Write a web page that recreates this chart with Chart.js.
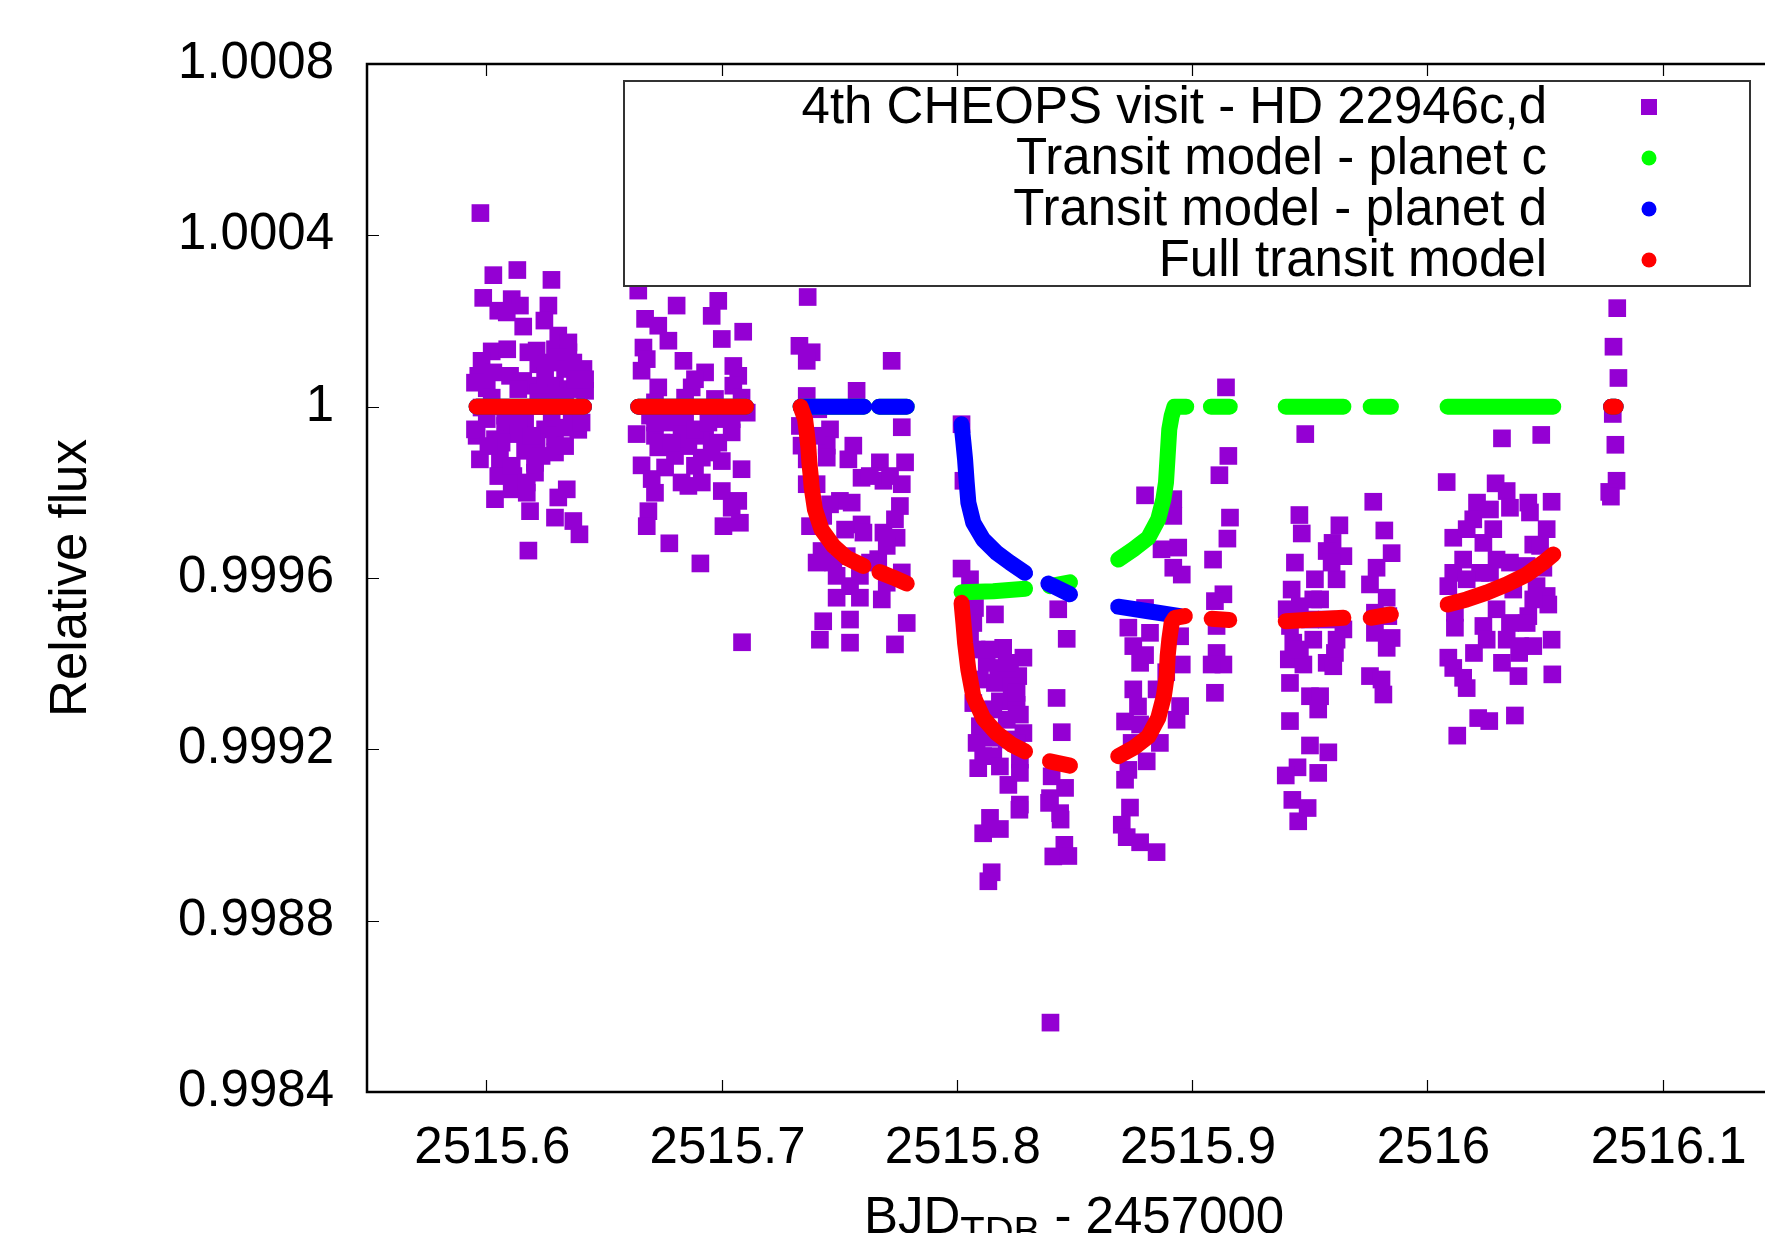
<!DOCTYPE html>
<html>
<head>
<meta charset="utf-8">
<script src="https://cdn.jsdelivr.net/npm/chart.js@4.4.1/dist/chart.umd.min.js"></script>
<style>
  html, body { margin: 0; padding: 0; background: #fff; overflow: hidden; }
</style>
</head>
<body>
<canvas id="chart" width="1765" height="1233"></canvas>
<script>
// axis ticks
const xTicks = [2515.6, 2515.7, 2515.8, 2515.9, 2516.0, 2516.1];
const yTicks = [0.9984, 0.9988, 0.9992, 0.9996, 1.0, 1.0004, 1.0008];

const seriesLabels = [
  "4th CHEOPS visit - HD 22946c,d",
  "Transit model - planet c",
  "Transit model - planet d",
  "Full transit model"
];

// CHEOPS photometry, one array per orbit chunk: [BJD - 2457000, relative flux]
const orbitA = [
  [2515.5975, 1.000452], [2515.6030, 1.000307], [2515.6132, 1.000319], [2515.6277, 1.000296],
  [2515.5987, 1.000254], [2515.6108, 1.000251], [2515.6143, 1.000236], [2515.6264, 1.000236],
  [2515.6051, 1.000224], [2515.6087, 1.000220], [2515.6157, 1.000187], [2515.6247, 1.000201],
  [2515.6306, 1.000166], [2515.6349, 1.000150], [2515.6023, 1.000129], [2515.6089, 1.000134],
  [2515.6214, 1.000131], [2515.6292, 1.000134], [2515.6349, 1.000127], [2515.5980, 1.000107],
  [2515.6221, 1.000099], [2515.6306, 1.000115], [2515.6413, 1.000088], [2515.6335, 1.000088],
  [2515.5966, 1.000072], [2515.6101, 1.000072], [2515.6157, 1.000060], [2515.6207, 1.000049],
  [2515.6292, 1.000049], [2515.6391, 1.000049], [2515.6002, 1.000043], [2515.6136, 1.000041],
  [2515.6349, 1.000041], [2515.6221, 1.000033], [2515.6023, 1.000021], [2515.6292, 1.000025],
  [2515.6420, 1.000037], [2515.5980, 0.999998], [2515.6150, 0.999994], [2515.6335, 1.000002],
  [2515.6235, 1.000010], [2515.6002, 0.999971], [2515.6165, 0.999963], [2515.6278, 0.999971],
  [2515.6363, 0.999971], [2515.6080, 0.999955], [2515.6250, 0.999947], [2515.6391, 0.999946],
  [2515.5959, 0.999932], [2515.6037, 0.999924], [2515.6136, 0.999936], [2515.6214, 0.999916],
  [2515.6292, 0.999932], [2515.6065, 0.999916], [2515.6165, 0.999897], [2515.6292, 0.999893],
  [2515.5973, 0.999877], [2515.6058, 0.999877], [2515.6207, 0.999869], [2515.6235, 0.999885],
  [2515.6051, 0.999838], [2515.6207, 0.999846], [2515.6115, 0.999838], [2515.6108, 0.999807],
  [2515.6172, 0.999799], [2515.6037, 0.999784], [2515.6342, 0.999807], [2515.6306, 0.999788],
  [2515.6186, 0.999756], [2515.6292, 0.999741], [2515.6370, 0.999733], [2515.6396, 0.999702],
  [2515.6179, 0.999664], [2515.5952, 1.000056], [2515.6030, 1.000080], [2515.6370, 1.000103],
  [2515.6264, 1.000103], [2515.6179, 1.000127], [2515.6420, 1.000064], [2515.6250, 1.000072],
  [2515.6377, 1.000064], [2515.5952, 0.999947], [2515.6009, 0.999908], [2515.6193, 0.999932],
  [2515.6335, 0.999951], [2515.6405, 0.999963], [2515.6136, 0.999971], [2515.6080, 0.999979],
  [2515.6335, 0.999908], [2515.6108, 0.999862], [2515.6172, 0.999823]
];

const orbitB = [
  [2515.6646, 1.000271], [2515.6809, 1.000236], [2515.6986, 1.000247], [2515.6958, 1.000212],
  [2515.6675, 1.000205], [2515.6731, 1.000189], [2515.6774, 1.000154], [2515.7092, 1.000175],
  [2515.7001, 1.000158], [2515.6668, 1.000138], [2515.6838, 1.000107], [2515.6682, 1.000111],
  [2515.6660, 1.000084], [2515.7050, 1.000095], [2515.6930, 1.000080], [2515.6887, 1.000064],
  [2515.7071, 1.000072], [2515.6731, 1.000045], [2515.6873, 1.000045], [2515.7050, 1.000049],
  [2515.7085, 1.000021], [2515.6972, 1.000018], [2515.6717, 1.000010], [2515.6845, 1.000021],
  [2515.6696, 0.999979], [2515.6774, 0.999963], [2515.6845, 0.999963], [2515.7001, 0.999971],
  [2515.7107, 0.999986], [2515.6639, 0.999936], [2515.6717, 0.999932], [2515.6830, 0.999936],
  [2515.6930, 0.999932], [2515.7043, 0.999940], [2515.6731, 0.999905], [2515.6859, 0.999908],
  [2515.6986, 0.999916], [2515.6802, 0.999885], [2515.6916, 0.999881], [2515.7001, 0.999873],
  [2515.6660, 0.999863], [2515.6760, 0.999858], [2515.7085, 0.999854], [2515.6887, 0.999862],
  [2515.6703, 0.999831], [2515.6830, 0.999823], [2515.6916, 0.999823], [2515.7001, 0.999803],
  [2515.6717, 0.999799], [2515.6859, 0.999815], [2515.7071, 0.999780], [2515.7043, 0.999764],
  [2515.6689, 0.999756], [2515.6682, 0.999721], [2515.7008, 0.999721], [2515.7078, 0.999729],
  [2515.6778, 0.999681], [2515.6910, 0.999634], [2515.7087, 0.999450], [2515.6745, 0.999916],
  [2515.6788, 0.999916], [2515.6887, 0.999947], [2515.6958, 0.999893], [2515.6717, 0.999963],
  [2515.7043, 0.999971], [2515.6944, 0.999963]
];

const orbitC = [
  [2515.7366, 1.000256], [2515.7331, 1.000142], [2515.7383, 1.000127], [2515.7362, 1.000107],
  [2515.7723, 1.000107], [2515.7574, 1.000037], [2515.7362, 1.000025], [2515.7411, 0.999994],
  [2515.7333, 0.999955], [2515.7461, 0.999947], [2515.7766, 0.999952], [2515.7340, 0.999909],
  [2515.7447, 0.999909], [2515.7560, 0.999909], [2515.7362, 0.999877], [2515.7447, 0.999881],
  [2515.7539, 0.999877], [2515.7673, 0.999870], [2515.7780, 0.999870], [2515.7595, 0.999834],
  [2515.7688, 0.999827], [2515.7766, 0.999819], [2515.7362, 0.999819], [2515.7404, 0.999819],
  [2515.7503, 0.999780], [2515.7553, 0.999776], [2515.7461, 0.999772], [2515.7758, 0.999768],
  [2515.7376, 0.999721], [2515.7595, 0.999725], [2515.7737, 0.999737], [2515.7432, 0.999745],
  [2515.7525, 0.999713], [2515.7603, 0.999706], [2515.7688, 0.999706], [2515.7744, 0.999694],
  [2515.7702, 0.999675], [2515.7425, 0.999663], [2515.7404, 0.999636], [2515.7475, 0.999636],
  [2515.7666, 0.999644], [2515.7489, 0.999605], [2515.7588, 0.999605], [2515.7766, 0.999613],
  [2515.7546, 0.999581], [2515.7702, 0.999589], [2515.7489, 0.999554], [2515.7588, 0.999554],
  [2515.7681, 0.999550], [2515.7432, 0.999499], [2515.7546, 0.999503], [2515.7787, 0.999495],
  [2515.7418, 0.999456], [2515.7546, 0.999449], [2515.7737, 0.999445], [2515.7404, 0.999932],
  [2515.7630, 0.999838], [2515.7716, 0.999838], [2515.7532, 0.999651], [2515.7631, 0.999636]
];

const orbitD = [
  [2515.8020, 0.999959], [2515.8028, 0.999827], [2515.8020, 0.999622], [2515.8056, 0.999597],
  [2515.8077, 0.999530], [2515.8162, 0.999515], [2515.8070, 0.999495], [2515.8056, 0.999456],
  [2515.8197, 0.999437], [2515.8084, 0.999433], [2515.8283, 0.999414], [2515.8127, 0.999402],
  [2515.8176, 0.999390], [2515.8226, 0.999386], [2515.8261, 0.999371], [2515.8098, 0.999363],
  [2515.8162, 0.999355], [2515.8233, 0.999347], [2515.8070, 0.999308], [2515.8183, 0.999312],
  [2515.8254, 0.999304], [2515.8112, 0.999293], [2515.8268, 0.999281], [2515.8212, 0.999269],
  [2515.8098, 0.999254], [2515.8283, 0.999238], [2515.8148, 0.999227], [2515.8084, 0.999215],
  [2515.8254, 0.999215], [2515.8155, 0.999184], [2515.8268, 0.999176], [2515.8091, 0.999156],
  [2515.8268, 0.999145], [2515.8219, 0.999117], [2515.8268, 0.999071], [2515.8266, 0.999059],
  [2515.8141, 0.999040], [2515.8112, 0.999004], [2515.8183, 0.999014], [2515.8148, 0.998913],
  [2515.8134, 0.998892], [2515.8212, 0.999402], [2515.8141, 0.999433], [2515.8254, 0.999332],
  [2515.8155, 0.999293], [2515.8212, 0.999223], [2515.8112, 0.999184], [2515.8183, 0.999160],
  [2515.8431, 0.999527], [2515.8467, 0.999458], [2515.8424, 0.999320], [2515.8446, 0.999240],
  [2515.8403, 0.999137], [2515.8460, 0.999110], [2515.8396, 0.999086], [2515.8392, 0.999075],
  [2515.8439, 0.999051], [2515.8441, 0.999036], [2515.8457, 0.998977], [2515.8410, 0.998950],
  [2515.8474, 0.998951], [2515.8398, 0.998562]
];

const orbitE = [
  [2515.8800, 0.999793], [2515.8920, 0.999784], [2515.8920, 0.999745], [2515.8870, 0.999667],
  [2515.8941, 0.999671], [2515.8920, 0.999624], [2515.8956, 0.999608], [2515.8800, 0.999530],
  [2515.8729, 0.999484], [2515.8821, 0.999472], [2515.8750, 0.999441], [2515.8949, 0.999464],
  [2515.8779, 0.999402], [2515.8956, 0.999398], [2515.8750, 0.999340], [2515.8849, 0.999340],
  [2515.8949, 0.999301], [2515.8715, 0.999265], [2515.8779, 0.999258], [2515.8863, 0.999215],
  [2515.8934, 0.999269], [2515.8743, 0.999215], [2515.8807, 0.999172], [2515.8729, 0.999152],
  [2515.8715, 0.999129], [2515.8736, 0.999064], [2515.8701, 0.999024], [2515.8722, 0.998995],
  [2515.8779, 0.998983], [2515.8849, 0.998960], [2515.8800, 0.999420], [2515.8890, 0.999380],
  [2515.8770, 0.999300]
];

const orbitF = [
  [2515.9144, 1.000045], [2515.9154, 0.999885], [2515.9116, 0.999840], [2515.9161, 0.999741],
  [2515.9150, 0.999692], [2515.9089, 0.999643], [2515.9133, 0.999562], [2515.9097, 0.999546],
  [2515.9104, 0.999488], [2515.9104, 0.999425], [2515.9133, 0.999398], [2515.9083, 0.999398],
  [2515.9097, 0.999332]
];

const orbitG = [
  [2515.9481, 0.999936], [2515.9456, 0.999747], [2515.9466, 0.999704], [2515.9626, 0.999723],
  [2515.9597, 0.999682], [2515.9643, 0.999651], [2515.9572, 0.999663], [2515.9437, 0.999636],
  [2515.9522, 0.999597], [2515.9614, 0.999597], [2515.9423, 0.999573], [2515.9515, 0.999550],
  [2515.9402, 0.999527], [2515.9458, 0.999534], [2515.9544, 0.999550], [2515.9416, 0.999488],
  [2515.9643, 0.999480], [2515.9501, 0.999503], [2515.9430, 0.999449], [2515.9515, 0.999456],
  [2515.9614, 0.999456], [2515.9411, 0.999410], [2515.9473, 0.999398], [2515.9572, 0.999402],
  [2515.9607, 0.999425], [2515.9416, 0.999355], [2515.9501, 0.999324], [2515.9544, 0.999324],
  [2515.9536, 0.999293], [2515.9416, 0.999266], [2515.9501, 0.999209], [2515.9579, 0.999193],
  [2515.9448, 0.999158], [2515.9398, 0.999139], [2515.9536, 0.999145], [2515.9426, 0.999082],
  [2515.9491, 0.999063], [2515.9451, 0.999032], [2515.9572, 0.999503], [2515.9458, 0.999433],
  [2515.9593, 0.999636], [2515.9600, 0.999394]
];

const orbitH = [
  [2515.9770, 0.999778], [2515.9817, 0.999711], [2515.9848, 0.999658], [2515.9784, 0.999624],
  [2515.9756, 0.999585], [2515.9827, 0.999554], [2515.9777, 0.999519], [2515.9848, 0.999460],
  [2515.9777, 0.999472], [2515.9827, 0.999437], [2515.9756, 0.999371], [2515.9805, 0.999363],
  [2515.9813, 0.999328], [2515.9834, 0.999511]
];

const orbitI = [
  [2516.0082, 0.999824], [2516.0317, 0.999926], [2516.0484, 0.999934], [2516.0290, 0.999821],
  [2516.0337, 0.999803], [2516.0211, 0.999776], [2516.0429, 0.999776], [2516.0528, 0.999778],
  [2516.0195, 0.999737], [2516.0266, 0.999760], [2516.0351, 0.999764], [2516.0436, 0.999753],
  [2516.0507, 0.999714], [2516.0110, 0.999694], [2516.0238, 0.999682], [2516.0450, 0.999678],
  [2516.0152, 0.999643], [2516.0110, 0.999612], [2516.0294, 0.999643], [2516.0224, 0.999612],
  [2516.0493, 0.999624], [2516.0089, 0.999581], [2516.0167, 0.999597], [2516.0266, 0.999612],
  [2516.0365, 0.999573], [2516.0464, 0.999581], [2516.0507, 0.999558], [2516.0117, 0.999519],
  [2516.0294, 0.999527], [2516.0514, 0.999538], [2516.0429, 0.999511], [2516.0117, 0.999484],
  [2516.0238, 0.999488], [2516.0351, 0.999495], [2516.0422, 0.999495], [2516.0252, 0.999456],
  [2516.0337, 0.999456], [2516.0394, 0.999441], [2516.0450, 0.999441], [2516.0528, 0.999456],
  [2516.0089, 0.999414], [2516.0198, 0.999425], [2516.0317, 0.999402], [2516.0390, 0.999425],
  [2516.0110, 0.999390], [2516.0152, 0.999367], [2516.0167, 0.999343], [2516.0387, 0.999371],
  [2516.0531, 0.999375], [2516.0216, 0.999273], [2516.0263, 0.999266], [2516.0372, 0.999279],
  [2516.0127, 0.999232], [2516.0167, 0.999714], [2516.0280, 0.999714], [2516.0479, 0.999675],
  [2516.0422, 0.999628], [2516.0351, 0.999636], [2516.0450, 0.999550]
];

const orbitJ = [
  [2516.0807, 1.000230], [2516.0791, 1.000140], [2516.0812, 1.000067], [2516.0788, 0.999983],
  [2516.0799, 0.999911], [2516.0804, 0.999827], [2516.0773, 0.999801], [2516.0780, 0.999790]
];

// transit models, split into the pieces between data gaps
const modelC = [
  [[2515.5959, 1], [2515.6415, 1]],
  [[2515.6646, 1], [2515.7104, 1]],
  [[2515.7336, 1], [2515.7605, 1]],
  [[2515.7670, 1], [2515.7787, 1]],
  [[2515.8020, 0.999567], [2515.8155, 0.999569], [2515.8290, 0.999575]],
  [[2515.8396, 0.999581], [2515.8481, 0.999590]],
  [[2515.8686, 0.999643], [2515.8750, 0.999667], [2515.8814, 0.999694], [2515.8856, 0.999737],
   [2515.8878, 0.999784], [2515.8889, 0.999823], [2515.8896, 0.999885], [2515.8903, 0.999947],
   [2515.8913, 0.999978], [2515.8925, 1], [2515.8975, 1]],
  [[2515.9080, 1], [2515.9160, 1]],
  [[2515.9398, 1], [2515.9643, 1]],
  [[2515.9759, 1], [2515.9845, 1]],
  [[2516.0086, 1], [2516.0535, 1]],
  [[2516.0781, 1], [2516.0800, 1]]
];

const modelD = [
  [[2515.5959, 1], [2515.6415, 1]],
  [[2515.6646, 1], [2515.7104, 1]],
  [[2515.7336, 1], [2515.7605, 1]],
  [[2515.7670, 1], [2515.7787, 1]],
  [[2515.8020, 0.999959], [2515.8028, 0.999916], [2515.8035, 0.999877], [2515.8042, 0.999823],
   [2515.8049, 0.999776], [2515.8070, 0.999729], [2515.8112, 0.999690], [2515.8169, 0.999659],
   [2515.8226, 0.999636], [2515.8290, 0.999612]],
  [[2515.8389, 0.999587], [2515.8481, 0.999562]],
  [[2515.8686, 0.999533], [2515.8807, 0.999523], [2515.8949, 0.999511]],
  [[2516.0781, 1], [2516.0800, 1]]
];

const modelFull = [
  [[2515.5959, 1], [2515.6415, 1]],
  [[2515.6646, 1], [2515.7104, 1]],
  [[2515.7336, 1], [2515.7355, 0.999971], [2515.7362, 0.999940], [2515.7369, 0.999905],
   [2515.7373, 0.999871], [2515.7379, 0.999838], [2515.7383, 0.999811], [2515.7397, 0.999760],
   [2515.7425, 0.999713], [2515.7475, 0.999675], [2515.7532, 0.999647], [2515.7603, 0.999628]],
  [[2515.7671, 0.999614], [2515.7730, 0.999601], [2515.7787, 0.999587]],
  [[2515.8020, 0.999542], [2515.8028, 0.999495], [2515.8035, 0.999449], [2515.8049, 0.999386],
   [2515.8070, 0.999324], [2515.8112, 0.999273], [2515.8169, 0.999238], [2515.8233, 0.999211],
   [2515.8290, 0.999195]],
  [[2515.8396, 0.999172], [2515.8481, 0.999162]],
  [[2515.8686, 0.999184], [2515.8750, 0.999203], [2515.8814, 0.999230], [2515.8856, 0.999273],
   [2515.8880, 0.999324], [2515.8892, 0.999371], [2515.8896, 0.999417], [2515.8903, 0.999456],
   [2515.8913, 0.999495], [2515.8927, 0.999507], [2515.8969, 0.999511]],
  [[2515.9083, 0.999505], [2515.9158, 0.999502]],
  [[2515.9398, 0.999499], [2515.9515, 0.999503], [2515.9643, 0.999507]],
  [[2515.9759, 0.999507], [2515.9845, 0.999515]],
  [[2516.0086, 0.999538], [2516.0167, 0.999550], [2516.0252, 0.999566], [2516.0337, 0.999585],
   [2516.0422, 0.999608], [2516.0493, 0.999636], [2516.0535, 0.999655]],
  [[2516.0781, 1], [2516.0800, 1]]
];

const FONT = '"Liberation Sans", Arial, Helvetica, sans-serif';
const FS = 51;

function toPoints(pairs) {
  return pairs.map(p => ({ x: p[0], y: p[1] }));
}

// null point between pieces so the line breaks at the gaps
function joinSegments(segs) {
  const out = [];
  segs.forEach((seg, i) => {
    if (i > 0) out.push({ x: seg[0][0], y: null });
    seg.forEach(p => out.push({ x: p[0], y: p[1] }));
  });
  return out;
}

function modelSet(label, segs, color, order) {
  return {
    label: label,
    data: joinSegments(segs),
    showLine: true,
    spanGaps: false,
    borderColor: color,
    backgroundColor: color,
    borderWidth: 16,
    borderCapStyle: "round",
    borderJoinStyle: "round",
    pointRadius: 0,
    tension: 0,
    order: order
  };
}

const photometry = [].concat(orbitA, orbitB, orbitC, orbitD, orbitE, orbitF, orbitG, orbitH, orbitI, orbitJ);

const datasets = [
  {
    label: seriesLabels[0],
    data: toPoints(photometry),
    pointStyle: "rect",
    pointRadius: 12.5,
    pointBackgroundColor: "#9400d3",
    pointBorderColor: "#9400d3",
    pointBorderWidth: 0,
    backgroundColor: "#9400d3",
    order: 3
  },
  modelSet(seriesLabels[1], modelC, "#00ff00", 2),
  modelSet(seriesLabels[2], modelD, "#0000ff", 1),
  modelSet(seriesLabels[3], modelFull, "#ff0000", 0)
];

// frame with inward ticks, key box and axis titles
const framePlugin = {
  id: "frame",
  afterDraw(chart) {
    const ctx = chart.ctx;
    const a = chart.chartArea;
    const xs = chart.scales.x, ys = chart.scales.y;
    const right = chart.width;
    ctx.save();

    ctx.strokeStyle = "#000";
    ctx.lineWidth = 1.2;
    ctx.beginPath();
    xTicks.forEach(v => {
      const px = Math.round(xs.getPixelForValue(v)) + 0.5;
      ctx.moveTo(px, a.bottom); ctx.lineTo(px, a.bottom - 12);
      ctx.moveTo(px, a.top); ctx.lineTo(px, a.top + 12);
    });
    yTicks.forEach(v => {
      const py = Math.round(ys.getPixelForValue(v)) + 0.5;
      ctx.moveTo(a.left, py); ctx.lineTo(a.left + 12, py);
    });
    ctx.stroke();

    ctx.lineWidth = 2.5;
    ctx.beginPath();
    ctx.moveTo(right, a.top);
    ctx.lineTo(a.left, a.top);
    ctx.lineTo(a.left, a.bottom);
    ctx.lineTo(right, a.bottom);
    ctx.stroke();

    // key
    const box = { x: 624, y: 81, w: 1126, h: 205 };
    ctx.fillStyle = "#fff";
    ctx.fillRect(box.x, box.y, box.w, box.h);
    ctx.strokeStyle = "#333";
    ctx.lineWidth = 2;
    ctx.strokeRect(box.x, box.y, box.w, box.h);

    const rows = [107, 158, 209, 260];
    ctx.font = FS + "px " + FONT;
    ctx.textAlign = "right";
    ctx.textBaseline = "middle";
    chart.data.datasets.forEach((ds, i) => {
      const y = rows[i];
      ctx.fillStyle = "#000";
      ctx.fillText(ds.label, 1547, y + 2);
      ctx.fillStyle = ds.backgroundColor;
      if (ds.showLine) {
        ctx.beginPath();
        ctx.arc(1649, y, 7.5, 0, Math.PI * 2);
        ctx.fill();
      } else {
        ctx.fillRect(1641, y - 8, 16, 16);
      }
    });

    // y title
    ctx.fillStyle = "#000";
    ctx.save();
    ctx.translate(72, (a.top + a.bottom) / 2);
    ctx.rotate(-Math.PI / 2);
    ctx.textAlign = "center";
    ctx.textBaseline = "middle";
    ctx.fillText("Relative flux", 0, 0);
    ctx.restore();

    // x title with subscript
    const parts = [
      { t: "BJD", size: FS, dy: 0 },
      { t: "TDB", size: 40, dy: 12 },
      { t: " - 2457000", size: FS, dy: 0 }
    ];
    let total = 0;
    parts.forEach(p => { ctx.font = p.size + "px " + FONT; p.w = ctx.measureText(p.t).width; total += p.w; });
    let x = 1074 - total / 2;
    ctx.textAlign = "left";
    ctx.textBaseline = "alphabetic";
    parts.forEach(p => {
      ctx.font = p.size + "px " + FONT;
      ctx.fillText(p.t, x, 1233 + p.dy);
      x += p.w;
    });

    ctx.restore();
  }
};

new Chart(document.getElementById("chart"), {
  type: "scatter",
  data: { datasets: datasets },
  options: {
    responsive: false,
    animation: false,
    layout: { autoPadding: false, padding: { top: 64, right: 0, bottom: 0, left: 0 } },
    plugins: { legend: { display: false }, tooltip: { enabled: false } },
    scales: {
      x: {
        type: "linear",
        min: 2515.5493,
        max: 2516.1435,
        afterBuildTicks: s => { s.ticks = xTicks.map(v => ({ value: v })); },
        afterFit: s => { s.height = 141; s.paddingLeft = 0; s.paddingRight = 0; },
        grid: { display: false, drawTicks: false },
        border: { display: false },
        ticks: {
          color: "#000",
          font: { family: FONT, size: FS },
          padding: 26,
          labelOffset: 6,
          maxRotation: 0,
          autoSkip: false,
          callback: v => String(Number(v.toFixed(1)))
        }
      },
      y: {
        type: "linear",
        min: 0.9984,
        max: 1.0008,
        afterBuildTicks: s => { s.ticks = yTicks.map(v => ({ value: v })); },
        afterFit: s => { s.width = 367; s.paddingTop = 0; s.paddingBottom = 0; },
        grid: { display: false, drawTicks: false },
        border: { display: false },
        ticks: {
          color: "#000",
          font: { family: FONT, size: FS },
          padding: 33,
          autoSkip: false,
          callback: v => String(Number(v.toFixed(4)))
        }
      }
    }
  },
  plugins: [framePlugin]
});
</script>
</body>
</html>
